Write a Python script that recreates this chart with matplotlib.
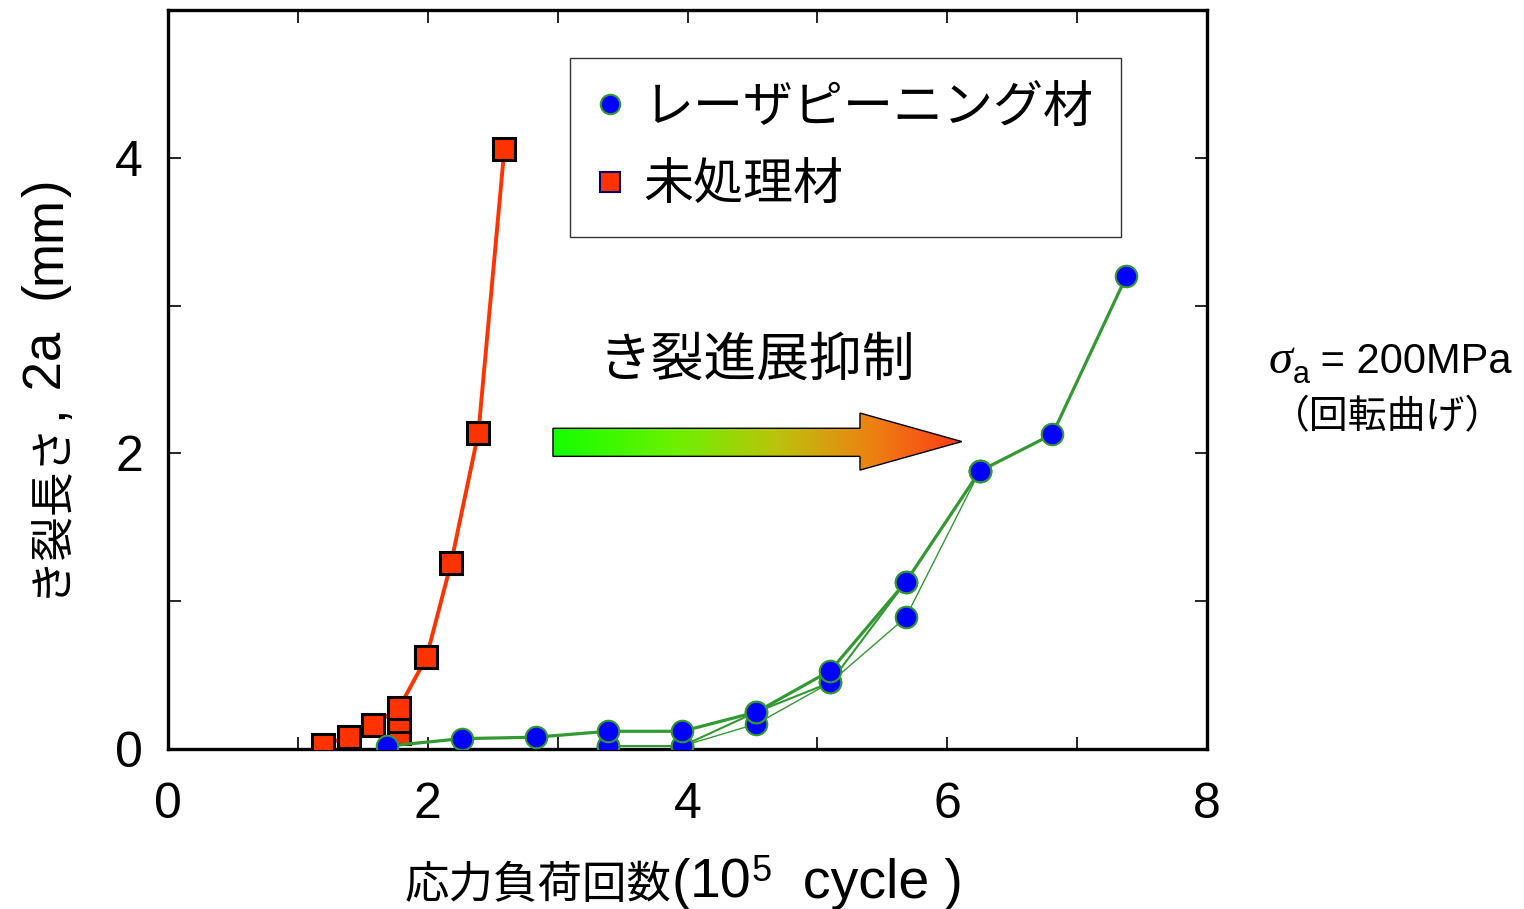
import numpy as np
import matplotlib
matplotlib.use("Agg")
import matplotlib.pyplot as plt
from matplotlib.patches import Polygon
from matplotlib.lines import Line2D
from matplotlib.colors import LinearSegmentedColormap
from matplotlib.ticker import MultipleLocator
from matplotlib.font_manager import findfont, FontProperties, get_font

LATIN = 'Liberation Sans'
CJK = 'Noto Sans CJK JP'
plt.rcParams['font.family'] = [LATIN, CJK, 'DejaVu Sans']

# Untreated specimen: crack length vs. load cycles (x 10^5)
untreated_cycles = [1.19, 1.39, 1.58, 1.78, 1.99, 2.18, 2.39, 2.59]
untreated_crack = [0.03, 0.08, 0.16, 0.28, 0.62, 1.26, 2.14, 4.06]
untreated_extra_cycles = [1.78, 1.78]
untreated_extra_crack = [0.11, 0.19]

# Laser-peened specimens
peened_a_cycles = [1.69, 2.26, 2.83, 3.39, 3.96, 4.53, 5.10, 5.68, 6.25, 6.81, 7.38]
peened_a_crack = [0.02, 0.07, 0.08, 0.12, 0.12, 0.25, 0.53, 1.13, 1.88, 2.13, 3.20]
peened_b_cycles = [3.39, 3.96, 4.53, 5.10, 5.68, 6.25]
peened_b_crack = [0.02, 0.02, 0.25, 0.45, 1.13, 1.88]
peened_c_cycles = [3.39, 3.96, 4.53, 5.10, 5.68, 6.25]
peened_c_crack = [0.02, 0.02, 0.17, 0.45, 0.89, 1.88]

x_major = [0, 2, 4, 6, 8]
y_major = [0, 2, 4]

legend_labels = ['レーザピーニング材', '未処理材']
arrow_text = 'き裂進展抑制'

W, H = 1524, 909
DPI = 100
fig = plt.figure(figsize=(W / DPI, H / DPI), dpi=DPI)
ax = fig.add_axes([168 / W, 1 - 749 / H, (1207 - 168) / W, (749 - 10) / H])


def advance_px(s, family, size, style='normal'):
    """Sum of glyph advances of s in pixels."""
    f = get_font(findfont(FontProperties(family=family, style=style)))
    f.set_size(size, DPI)
    total = 0.0
    for ch in s:
        g = f.load_char(ord(ch))
        total += g.linearHoriAdvance / 65536
    return total


def draw_runs(x0, y0, runs, rotation=0):
    """Draw mixed-font runs centred on (x0, y0) (pixels, baseline)."""
    advs = [advance_px(t, fam, sz, st) for t, fam, sz, dy, st in runs]
    pos = -sum(advs) / 2
    a = np.radians(rotation)
    c, s = np.cos(a), np.sin(a)
    for (t, fam, sz, dy, st), adv in zip(runs, advs):
        dyp = dy * DPI / 72
        px = x0 + c * pos - s * dyp
        py = y0 + s * pos + c * dyp
        fig.text(px / W, py / H, t, family=[fam], fontsize=sz, style=st,
                 rotation=rotation, rotation_mode='anchor',
                 ha='left', va='baseline')
        pos += adv


red = '#ff3300'
green = '#339933'
blue = '#0000ff'

ax.plot(untreated_cycles, untreated_crack, color=red, lw=2.8, zorder=2)
ax.plot(untreated_extra_cycles, untreated_extra_crack, ls='none', marker='s', ms=16,
        mfc=red, mec='black', mew=2.2, zorder=3)
ax.plot(untreated_cycles, untreated_crack, ls='none', marker='s', ms=16,
        mfc=red, mec='black', mew=2.2, zorder=3)

for cyc, crk, lw in [(peened_c_cycles, peened_c_crack, 1.0),
                     (peened_b_cycles, peened_b_crack, 1.5),
                     (peened_a_cycles, peened_a_crack, 2.3)]:
    ax.plot(cyc, crk, color=green, lw=lw, marker='o', ms=15.5, mfc=blue,
            mec=green, mew=1.5, zorder=4)

ax.set_xlim(0, 8)
ax.set_ylim(0, 5)
ax.set_xticks(x_major)
ax.set_yticks(y_major)
ax.xaxis.set_minor_locator(MultipleLocator(1))
ax.yaxis.set_minor_locator(MultipleLocator(1))
ax.tick_params(which='both', direction='in', top=True, right=True,
               length=9, width=1.2, labelsize=36)
ax.tick_params(axis='x', which='major', pad=24)
ax.tick_params(axis='y', which='major', pad=18)
for sp in ax.spines.values():
    sp.set_linewidth(2.4)

# gradient arrow
tail_x, base_x, tip_x = 2.964, 5.328, 6.112
body_lo, body_hi = 1.98, 2.17
head_lo, head_hi = 1.887, 2.273
tip_y = 0.5 * (head_lo + head_hi)
verts = [(tail_x, body_lo), (base_x, body_lo), (base_x, head_lo), (tip_x, tip_y),
         (base_x, head_hi), (base_x, body_hi), (tail_x, body_hi)]
cmap = LinearSegmentedColormap.from_list(
    'grad', [(0.0, '#14ff00'), (0.3, '#6ef000'), (0.55, '#bcc20c'),
             (0.78, '#ec8212'), (1.0, '#ff3a16')])
grad = np.linspace(0, 1, 256).reshape(1, -1)
im = ax.imshow(grad, cmap=cmap, extent=(tail_x, tip_x, head_lo, head_hi),
               aspect='auto', zorder=2, interpolation='bicubic')
poly = Polygon(verts, closed=True, fc='none', ec='black', lw=1.0, zorder=2.5)
ax.add_patch(poly)
im.set_clip_path(poly)
ax.set_xlim(0, 8)
ax.set_ylim(0, 5)

ax.text(4.53, 2.62, arrow_text, fontsize=38, ha='center', va='center')

handles = [
    Line2D([], [], ls='none', marker='o', ms=14, mfc=blue, mec=green, mew=1.5),
    Line2D([], [], ls='none', marker='s', ms=14, mfc=red, mec='#000066', mew=1.5),
]
leg = ax.legend(handles, legend_labels, loc='upper left',
                bbox_to_anchor=(570 / W, 1 - 58 / H), bbox_transform=fig.transFigure,
                borderaxespad=0, fontsize=36, frameon=True, fancybox=False,
                edgecolor='black', handlelength=0.5, handletextpad=0.42,
                borderpad=0.55, labelspacing=0.64)
leg.get_frame().set_linewidth(1.0)

# axis titles (CJK text with Latin parts)
draw_runs(684, H - 898, [
    ('応力負荷回数', CJK, 32, 0, 'normal'),
    ('(', LATIN, 40, 0, 'normal'),
    ('10', LATIN, 40, 0, 'normal'),
    ('5', LATIN, 26, 12, 'normal'),
    ('  cycle', LATIN, 40, 0, 'normal'),
    (' )', LATIN, 40, 0, 'normal'),
])
draw_runs(61, H - 388, [
    ('き裂長さ', CJK, 32, 0, 'normal'),
    (',', LATIN, 38, 0, 'normal'),
    (' 2a', LATIN, 38, 0, 'normal'),
    ('  (', LATIN, 38, 0, 'normal'),
    ('mm', LATIN, 38, 0, 'normal'),
    (')', LATIN, 38, 0, 'normal'),
], rotation=90)

# loading condition
draw_runs(1390, H - 373, [
    ('σ', 'Liberation Serif', 35, 0, 'italic'),
    ('a', LATIN, 22, -7, 'normal'),
    (' = 200MPa', LATIN, 30, 0, 'normal'),
])
draw_runs(1388, H - 428, [
    ('（回転曲げ）', CJK, 28, 0, 'normal'),
])

fig.savefig('out.png', dpi=DPI)
